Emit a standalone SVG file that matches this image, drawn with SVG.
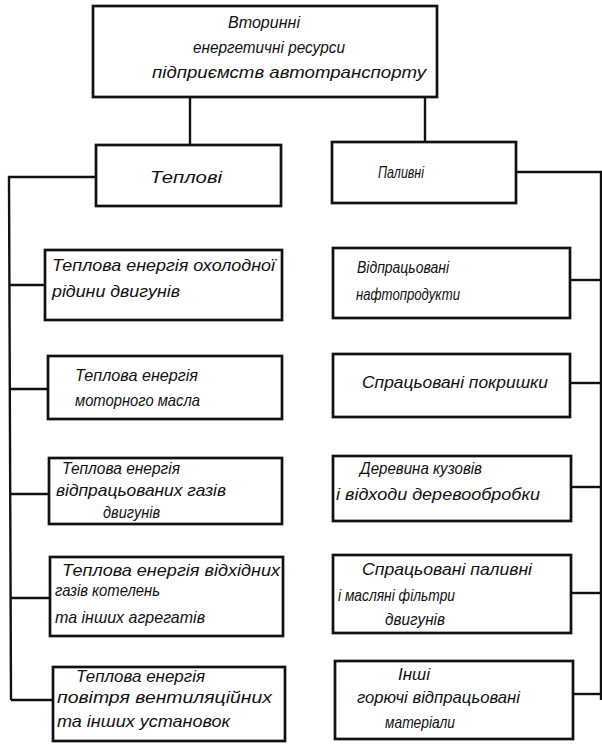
<svg xmlns="http://www.w3.org/2000/svg" width="602" height="745" viewBox="0 0 602 745">
  <style>
    .box { fill: #ffffff; stroke: #111111; stroke-width: 2.7; }
    .wire { fill: none; stroke: #111111; stroke-width: 2.4; }
    text { font-family: "Liberation Sans", "DejaVu Sans", sans-serif; font-style: italic; font-size: 16.5px; fill: #111111; }
  </style>
  <rect width="602" height="745" fill="#ffffff"/>

  <!-- connectors -->
  <g id="connectors" class="wire">
    <line x1="190" y1="97" x2="190" y2="145"/>
    <line x1="425" y1="97" x2="425" y2="142"/>
    <!-- left bus -->
    <polyline points="96,177 9,177 11,700"/>
    <line x1="10" y1="285" x2="45" y2="285"/>
    <line x1="10" y1="389" x2="48" y2="389"/>
    <line x1="10" y1="494" x2="49" y2="494"/>
    <line x1="11" y1="598" x2="50" y2="598"/>
    <line x1="11" y1="700" x2="53" y2="700"/>
    <!-- right bus -->
    <polyline points="516,172 601,172 601,700"/>
    <line x1="570" y1="280" x2="601" y2="280"/>
    <line x1="570" y1="383" x2="601" y2="383"/>
    <line x1="571" y1="487" x2="601" y2="487"/>
    <line x1="571" y1="593" x2="601" y2="593"/>
    <line x1="573" y1="694" x2="601" y2="694"/>
  </g>

  <g id="root">
    <rect class="box" x="93" y="6" width="344" height="91"/>
    <text x="228" y="28" textLength="72" lengthAdjust="spacingAndGlyphs">Вторинні</text>
    <text x="193" y="53" textLength="152" lengthAdjust="spacingAndGlyphs">енергетичні  ресурси</text>
    <text x="152" y="78" textLength="274" lengthAdjust="spacingAndGlyphs">підприємств   автотранспорту</text>
  </g>

  <g id="thermal">
    <rect class="box" x="96" y="145" width="185" height="61"/>
    <text x="150" y="183" textLength="72" lengthAdjust="spacingAndGlyphs">Теплові</text>
  </g>

  <g id="fuel">
    <rect class="box" x="332" y="142" width="184" height="61"/>
    <text x="378" y="178" textLength="46" lengthAdjust="spacingAndGlyphs">Паливні</text>
  </g>

  <g id="t1">
    <rect class="box" x="45" y="250" width="237" height="70"/>
    <text x="52" y="271" textLength="223" lengthAdjust="spacingAndGlyphs">Теплова енергія охолодної</text>
    <text x="52" y="297" textLength="128" lengthAdjust="spacingAndGlyphs">рідини   двигунів</text>
  </g>

  <g id="t2">
    <rect class="box" x="48" y="356" width="234" height="63"/>
    <text x="75" y="381" textLength="123" lengthAdjust="spacingAndGlyphs">Теплова  енергія</text>
    <text x="75" y="406" textLength="125" lengthAdjust="spacingAndGlyphs">моторного  масла</text>
  </g>

  <g id="t3">
    <rect class="box" x="49" y="458" width="233" height="66"/>
    <text x="62" y="474" textLength="118" lengthAdjust="spacingAndGlyphs">Теплова  енергія</text>
    <text x="56" y="496" textLength="170" lengthAdjust="spacingAndGlyphs">відпрацьованих  газів</text>
    <text x="103" y="518" textLength="57" lengthAdjust="spacingAndGlyphs">двигунів</text>
  </g>

  <g id="t4">
    <rect class="box" x="50" y="557" width="233" height="79"/>
    <text x="62" y="576" textLength="218" lengthAdjust="spacingAndGlyphs">Теплова  енергія відхідних</text>
    <text x="55" y="596" textLength="105" lengthAdjust="spacingAndGlyphs">газів  котелень</text>
    <text x="55" y="623" textLength="150" lengthAdjust="spacingAndGlyphs">та інших агрегатів</text>
  </g>

  <g id="t5">
    <rect class="box" x="53" y="667" width="232" height="74"/>
    <text x="76" y="682" textLength="129" lengthAdjust="spacingAndGlyphs">Теплова  енергія</text>
    <text x="57" y="703" textLength="215" lengthAdjust="spacingAndGlyphs">повітря   вентиляційних</text>
    <text x="57" y="727" textLength="173" lengthAdjust="spacingAndGlyphs">та інших установок</text>
  </g>

  <g id="f1">
    <rect class="box" x="333" y="248" width="237" height="70"/>
    <text x="357" y="273" textLength="92" lengthAdjust="spacingAndGlyphs">Відпрацьовані</text>
    <text x="356" y="300" textLength="104" lengthAdjust="spacingAndGlyphs">нафтопродукти</text>
  </g>

  <g id="f2">
    <rect class="box" x="333" y="354" width="237" height="63"/>
    <text x="362" y="388" textLength="186" lengthAdjust="spacingAndGlyphs">Спрацьовані  покришки</text>
  </g>

  <g id="f3">
    <rect class="box" x="333" y="456" width="238" height="65"/>
    <text x="360" y="474" textLength="122" lengthAdjust="spacingAndGlyphs">Деревина  кузовів</text>
    <text x="336" y="500" textLength="204" lengthAdjust="spacingAndGlyphs">і відходи деревообробки</text>
  </g>

  <g id="f4">
    <rect class="box" x="333" y="555" width="238" height="78"/>
    <text x="362" y="575" textLength="170" lengthAdjust="spacingAndGlyphs">Спрацьовані  паливні</text>
    <text x="338" y="601" textLength="117" lengthAdjust="spacingAndGlyphs">і масляні фільтри</text>
    <text x="385" y="625" textLength="60" lengthAdjust="spacingAndGlyphs">двигунів</text>
  </g>

  <g id="f5">
    <rect class="box" x="335" y="661" width="238" height="78"/>
    <text x="398" y="680" textLength="32" lengthAdjust="spacingAndGlyphs">Інші</text>
    <text x="357" y="703" textLength="163" lengthAdjust="spacingAndGlyphs">горючі  відпрацьовані</text>
    <text x="385" y="728" textLength="70" lengthAdjust="spacingAndGlyphs">матеріали</text>
  </g>
</svg>
